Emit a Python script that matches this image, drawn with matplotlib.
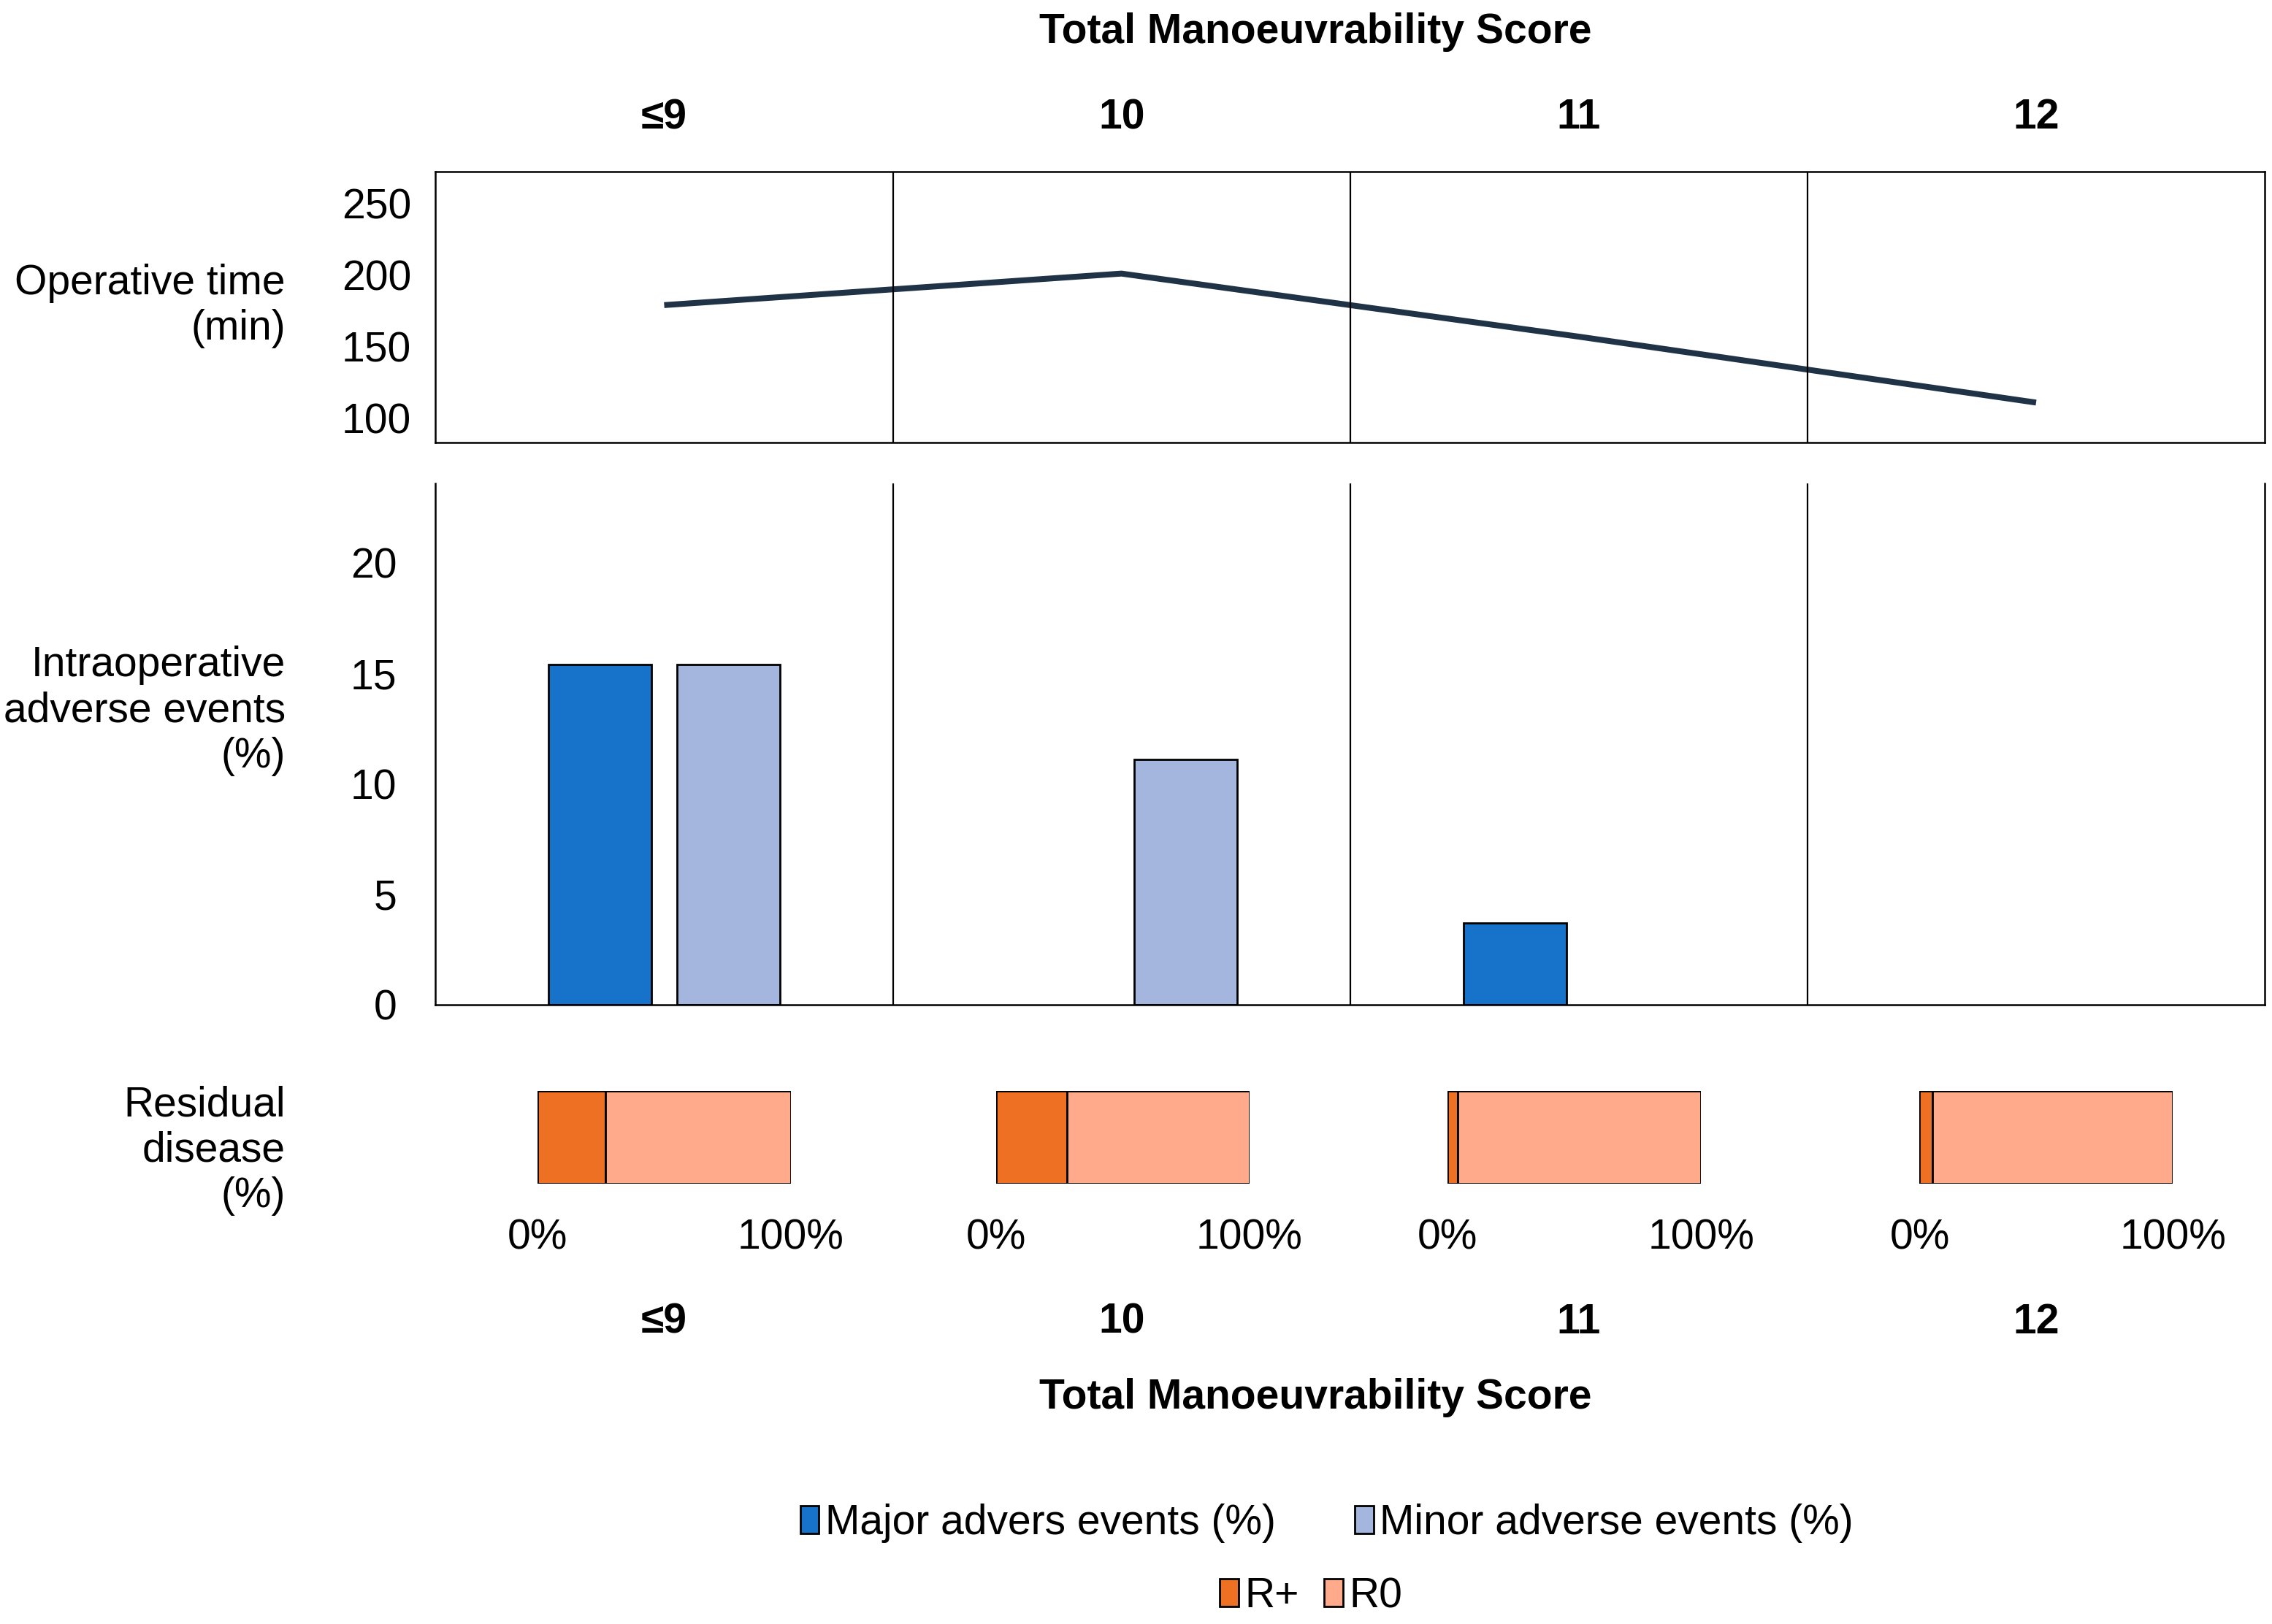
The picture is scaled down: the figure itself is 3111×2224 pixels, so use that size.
import matplotlib
matplotlib.use("Agg")
import matplotlib.pyplot as plt
import matplotlib.transforms as mtransforms
from matplotlib.patches import Patch

plt.rcParams['font.family'] = ['Liberation Sans', 'DejaVu Sans']
plt.rcParams['font.size'] = 20.5

## Data

scores = ['≤9', '10', '11', '12']
operative_time = [179, 201, 157, 111]
major_events = [15.4, 0, 3.7, 0]
minor_events = [15.4, 11.1, 0, 0]
r_plus = [27, 28, 4, 5]
r_zero = [100 - v for v in r_plus]

c_major = '#1772C9'
c_minor = '#A4B6DD'
c_rplus = '#EE7022'
c_rzero = '#FFAA8A'
c_line = '#1F3246'

x = list(range(len(scores)))

fig = plt.figure(figsize=(15.555, 11.12), dpi=200)

## Operative time panel
ax_top = fig.add_axes([0.1917, 0.7274, 0.8051, 0.1668])
ax_top.plot(x, operative_time, color=c_line, linewidth=2.9, solid_capstyle='butt')
ax_top.set_xlim(-0.5, 3.5)
ax_top.set_ylim(83, 272)
ax_top.set_yticks([100, 150, 200, 250])
ax_top.set_xticks(x)
ax_top.set_xticklabels(scores, fontweight='bold')
ax_top.xaxis.tick_top()
ax_top.tick_params(axis='x', length=0, pad=17)
ax_top.tick_params(axis='y', length=0, pad=12)
for s in ax_top.spines.values():
    s.set_linewidth(0.9)
for b in [0.5, 1.5, 2.5]:
    ax_top.axvline(b, color='black', linewidth=0.8)

## Adverse events panel
ax_mid = fig.add_axes([0.1917, 0.3813, 0.8051, 0.3210])
w = 0.225
# no outline on empty bars
lw_major = [1.0 if v > 0 else 0 for v in major_events]
lw_minor = [1.0 if v > 0 else 0 for v in minor_events]
ax_mid.bar([i - 0.14 for i in x], major_events, width=w, color=c_major,
           edgecolor='black', linewidth=lw_major)
ax_mid.bar([i + 0.14 for i in x], minor_events, width=w, color=c_minor,
           edgecolor='black', linewidth=lw_minor)
ax_mid.set_xlim(-0.5, 3.5)
ax_mid.set_ylim(0, 23.6)
ax_mid.set_yticks([0, 5, 10, 15, 20])
ax_mid.set_xticks([])
ax_mid.tick_params(axis='y', length=0, pad=19)
ax_mid.spines['top'].set_visible(False)
for s in ['left', 'right', 'bottom']:
    ax_mid.spines[s].set_linewidth(0.9)
for b in [0.5, 1.5, 2.5]:
    ax_mid.axvline(b, color='black', linewidth=0.8)

## Residual disease bars
bar_lefts = [0.2365, 0.4385, 0.6372, 0.8449]
for i in x:
    ax = fig.add_axes([bar_lefts[i], 0.2710, 0.1115, 0.0574])
    ax.barh(0, r_plus[i], height=1, color=c_rplus, edgecolor='black', linewidth=1.0)
    ax.barh(0, r_zero[i], left=r_plus[i], height=1, color=c_rzero,
            edgecolor='black', linewidth=1.0)
    ax.set_xlim(0, 100)
    ax.set_ylim(-0.5, 0.5)
    ax.set_yticks([])
    ax.set_xticks([0, 100])
    ax.set_xticklabels(['0%', '100%'])
    ax.tick_params(axis='x', length=0, pad=17)
    for s in ax.spines.values():
        s.set_visible(False)

## Texts
fig.text(0.579, 0.980, 'Total Manoeuvrability Score', ha='center', va='center',
         fontweight='bold')
fig.text(0.579, 0.1392, 'Total Manoeuvrability Score', ha='center', va='center',
         fontweight='bold')

trans = mtransforms.blended_transform_factory(ax_mid.transData, fig.transFigure)
for i, lab in zip(x, scores):
    fig.text(i, 0.1858, lab, transform=trans, ha='center', va='center',
             fontweight='bold')

fig.text(0.1256, 0.8117, 'Operative time\n(min)', ha='right', va='center',
         multialignment='right')
fig.text(0.1256, 0.5624, 'Intraoperative\nadverse events\n(%)', ha='right',
         va='center', multialignment='right')
fig.text(0.1256, 0.2916, 'Residual\ndisease\n(%)', ha='right', va='center',
         multialignment='right')

## Legends
h1 = [Patch(facecolor=c_major, edgecolor='black', linewidth=1.0),
      Patch(facecolor=c_minor, edgecolor='black', linewidth=1.0)]
fig.legend(h1, ['Major advers events (%)', 'Minor adverse events (%)'],
           loc='center', bbox_to_anchor=(0.584, 0.062), ncol=2,
           frameon=False, handlelength=0.45, handleheight=0.65,
           handletextpad=0.15, columnspacing=1.9)
h2 = [Patch(facecolor=c_rplus, edgecolor='black', linewidth=1.0),
      Patch(facecolor=c_rzero, edgecolor='black', linewidth=1.0)]
fig.legend(h2, ['R+', 'R0'], loc='center', bbox_to_anchor=(0.577, 0.017),
           ncol=2, frameon=False, handlelength=0.45, handleheight=0.65,
           handletextpad=0.15, columnspacing=0.6)

fig.savefig('out.png', dpi=200, facecolor='white')
